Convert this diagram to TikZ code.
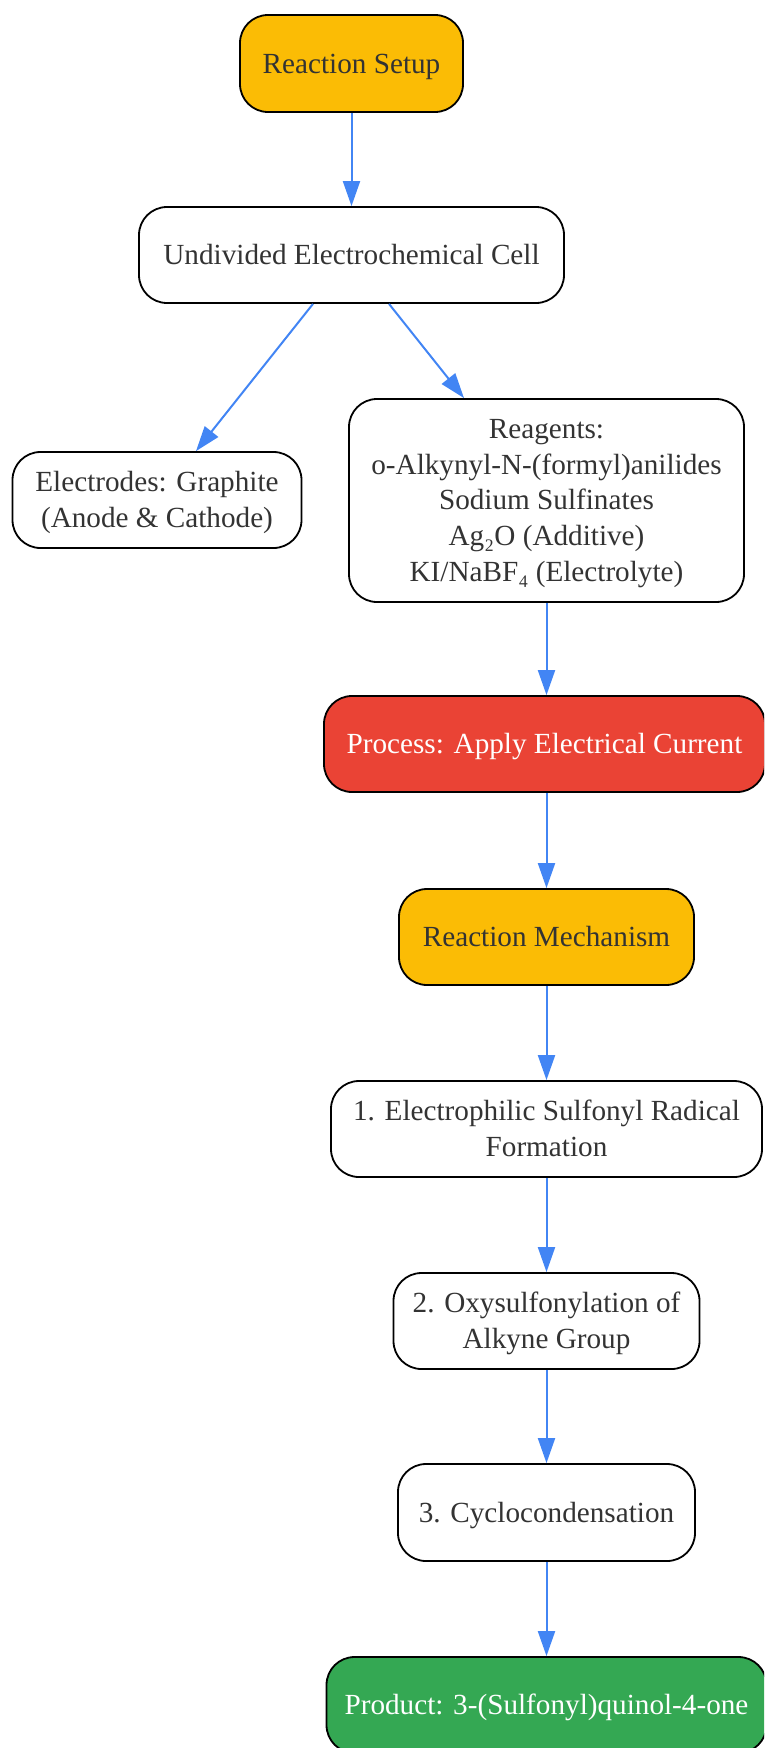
\documentclass[tikz,border=0pt]{standalone}
\usepackage{fontspec}
\setmainfont{Liberation Serif}
\usetikzlibrary{arrows.meta}
\definecolor{gyellow}{HTML}{FBBC05}
\definecolor{gred}{HTML}{EA4335}
\definecolor{ggreen}{HTML}{34A853}
\definecolor{gblue}{HTML}{4285F4}
\definecolor{txt}{HTML}{333333}
\newcommand\mystrut{\rule[-8.3pt]{0pt}{36pt}}
\tikzset{
  lbl/.style={align=center, text=txt, font=\fontsize{29.2}{35.8}\selectfont, inner sep=0pt,
    execute at begin node={\mystrut}, execute at end node={\mystrut}},
  box/.style={lbl, draw=black, line width=1.8pt, rounded corners=28pt, fill=white},
  arr/.style={draw=gblue, line width=2pt, -{Triangle[length=25pt,width=17pt]}},
}
\begin{document}
\begin{tikzpicture}[x=1pt,y=-1pt]
\useasboundingbox (0,0) rectangle (764,1748);
\clip (0,0) rectangle (764,1748);
\node[box, fill=gyellow, minimum width=223pt, minimum height=97pt] (setup) at (351.5,63.5) {Reaction Setup};
\node[box, minimum width=425pt, minimum height=96pt] (und) at (351.5,255) {Undivided Electrochemical Cell};
\node[box, minimum width=289pt, minimum height=96pt] (elec) at (157,500) {};
\node[lbl, yshift=-3.5pt] (elecT) at (elec) {Electrodes: Graphite\\(Anode \& Cathode)};
\node[box, minimum width=395pt, minimum height=203pt] (reag) at (546.5,500.5) {};
\node[lbl, yshift=-4pt] (reagT) at (reag) {Reagents:\\o-Alkynyl-N-(formyl)anilides\\Sodium Sulfinates\\Ag₂O (Additive)\\KI/NaBF₄ (Electrolyte)};
\node[box, fill=gred, text=white, minimum width=441pt, minimum height=96pt] (proc) at (544.5,744) {Process: Apply Electrical Current};
\node[box, fill=gyellow, minimum width=295pt, minimum height=96pt] (mech) at (546.5,937) {Reaction Mechanism};
\node[box, minimum width=431pt, minimum height=96pt] (s1) at (546.5,1129) {};
\node[lbl, yshift=-3.5pt] (s1T) at (s1) {1. Electrophilic Sulfonyl Radical\\Formation};
\node[box, minimum width=306pt, minimum height=96pt] (s2) at (546.5,1321) {};
\node[lbl, yshift=-3.5pt] (s2T) at (s2) {2. Oxysulfonylation of\\Alkyne Group};
\node[box, minimum width=297pt, minimum height=97pt] (s3) at (546.5,1512.5) {3. Cyclocondensation};
\node[box, fill=ggreen, text=white, minimum width=440pt, minimum height=96pt] (prod) at (546.5,1705) {Product: 3-(Sulfonyl)quinol-4-one};
\draw[arr] (setup.south) -- (und.north);
\draw[arr] ([xshift=-38.5pt]und.south) -- ([xshift=39pt]elec.north);
\draw[arr] ([xshift=37.5pt]und.south) -- ([xshift=-82.5pt]reag.north);
\draw[arr] (reag.south) -- (reag.south |- proc.north);
\draw[arr] (reag.south |- proc.south) -- (reag.south |- mech.north);
\draw[arr] (mech.south) -- (s1.north -| mech.south);
\draw[arr] (s1.south -| mech.south) -- (s2.north -| mech.south);
\draw[arr] (s2.south -| mech.south) -- (s3.north -| mech.south);
\draw[arr] (s3.south -| mech.south) -- (prod.north -| mech.south);
\end{tikzpicture}
\end{document}
